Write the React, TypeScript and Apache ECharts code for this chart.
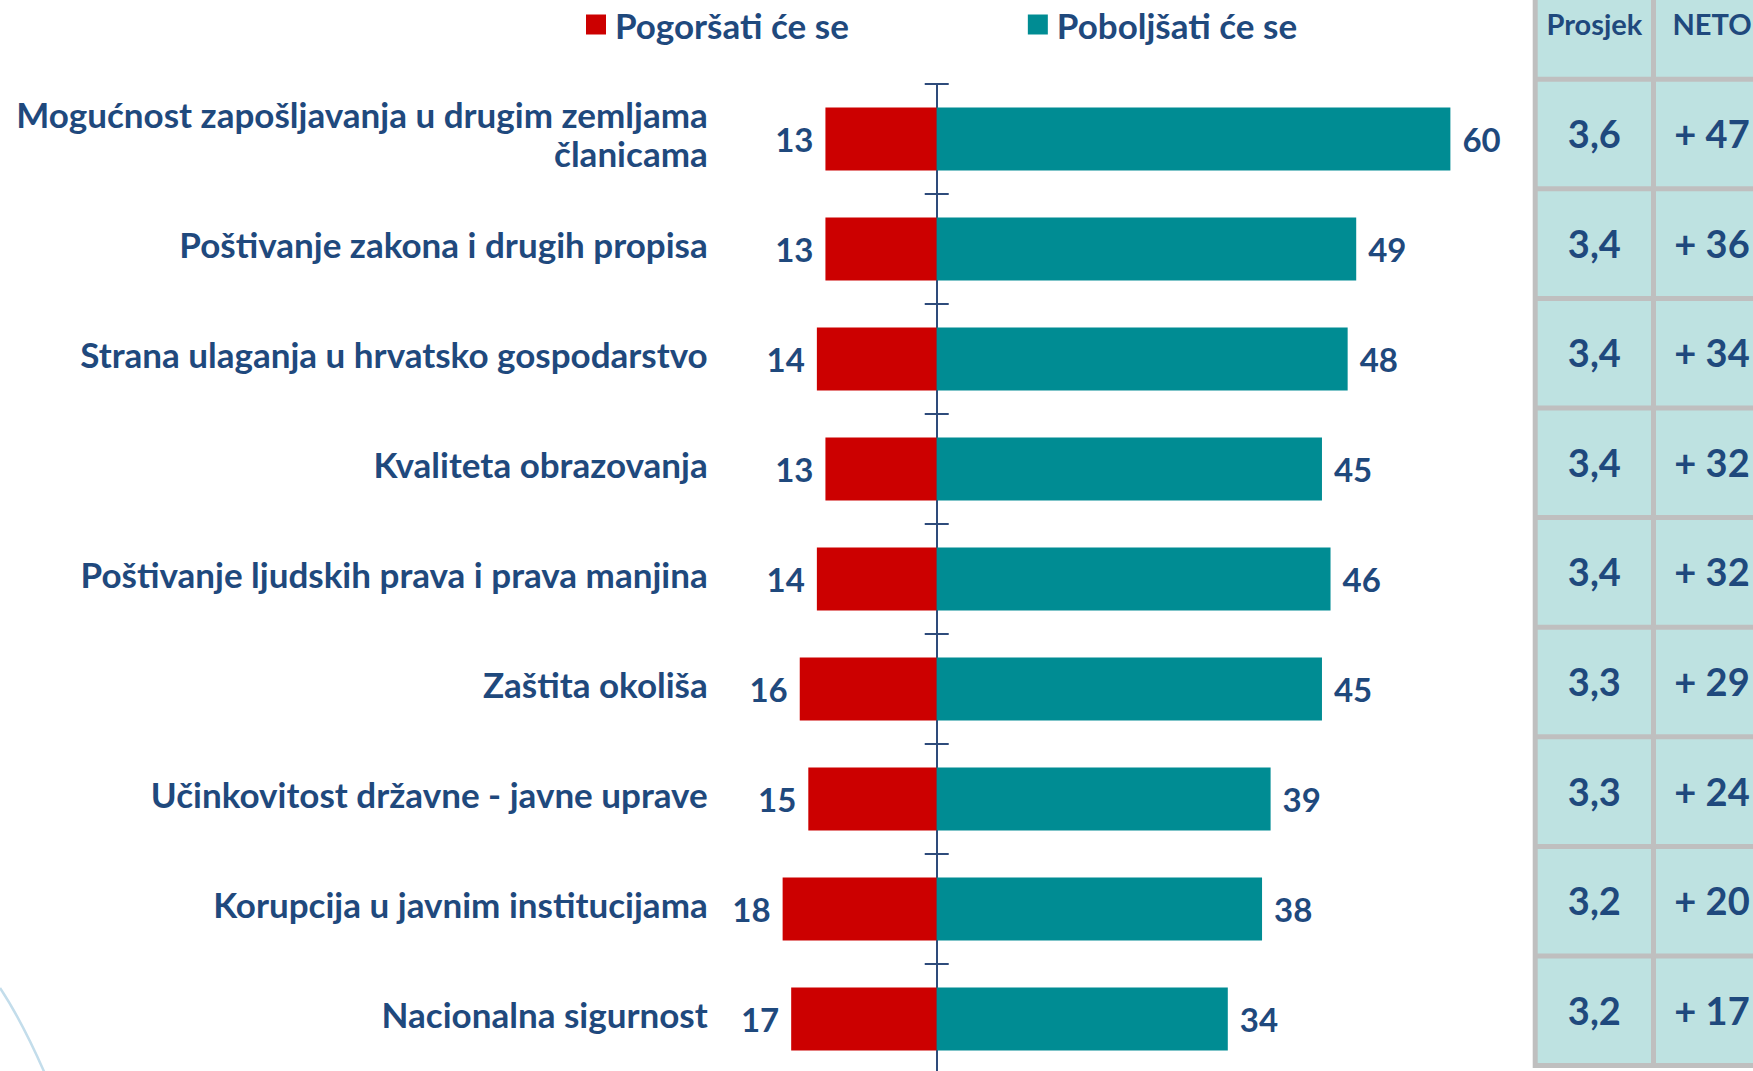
import React, { useEffect, useRef } from "react";
import * as echarts from "echarts";

const categories = [
  "Mogućnost zapošljavanja u drugim zemljama\nčlanicama",
  "Poštivanje zakona i drugih propisa",
  "Strana ulaganja u hrvatsko gospodarstvo",
  "Kvaliteta obrazovanja",
  "Poštivanje ljudskih prava i prava manjina",
  "Zaštita okoliša",
  "Učinkovitost državne - javne uprave",
  "Korupcija u javnim institucijama",
  "Nacionalna sigurnost",
];
const worse = [13, 13, 14, 13, 14, 16, 15, 18, 17];
const better = [60, 49, 48, 45, 46, 45, 39, 38, 34];
const averages = ["3,6", "3,4", "3,4", "3,4", "3,4", "3,3", "3,3", "3,2", "3,2"];
const netValues = [47, 36, 34, 32, 32, 29, 24, 20, 17];
const tableHeaders = ["Prosjek", "NETO"];
const seriesNames = ["Pogoršati će se", "Poboljšati će se"];

const FONT = "Lato, 'Open Sans', sans-serif";
const TEXT = "#1F497D";
const RED = "#CC0000";
const TEAL = "#008C93";
const AXIS = "#2E4B7B";

const X_MIN = -20;
const X_MAX = 70;
const GRID_LEFT = 765.5;
const GRID_RIGHT = 217;

export default function App() {
  const ref = useRef<HTMLDivElement>(null);
  useEffect(() => {
    if (!ref.current) return;
    const chart = echarts.init(ref.current, null, { renderer: "svg" });

    const plotW = 1753 - GRID_LEFT - GRID_RIGHT;
    const zeroOffset = -((0 - X_MIN) / (X_MAX - X_MIN)) * plotW;

    // table layout
    const tblX = 1532.7;
    const border = 5;
    const col1X = tblX + border;
    const col1W = 113.3;
    const col2X = col1X + col1W + border;
    const col2W = 200;
    const col2C = 1712;
    const firstLine = 79.2;
    const rowH = 109.6;
    const cellFill = "#BEE2E1";
    const graphics: any[] = [];
    const nRows = averages.length;
    const bottomLine = firstLine + nRows * rowH;
    graphics.push({
      type: "rect",
      shape: { x: tblX, y: -10, width: 400, height: bottomLine + border / 2 + 10 },
      style: { fill: "#BFBFBF" },
      silent: true,
    });
    graphics.push({
      type: "rect",
      shape: { x: col1X, y: -10, width: col1W, height: firstLine - border / 2 + 10 },
      style: { fill: cellFill },
    });
    graphics.push({
      type: "rect",
      shape: { x: col2X, y: -10, width: col2W, height: firstLine - border / 2 + 10 },
      style: { fill: cellFill },
    });
    graphics.push({
      type: "text",
      x: col1X + col1W / 2,
      y: 23,
      style: { text: tableHeaders[0], fill: TEXT, font: `bold 29px ${FONT}`, textAlign: "center", textVerticalAlign: "middle" },
    });
    graphics.push({
      type: "text",
      x: col2C,
      y: 23,
      style: { text: tableHeaders[1], fill: TEXT, font: `bold 29px ${FONT}`, textAlign: "center", textVerticalAlign: "middle" },
    });
    for (let i = 0; i < nRows; i++) {
      const top = firstLine + i * rowH + border / 2;
      const h = rowH - border;
      graphics.push({ type: "rect", shape: { x: col1X, y: top, width: col1W, height: h }, style: { fill: cellFill } });
      graphics.push({ type: "rect", shape: { x: col2X, y: top, width: col2W, height: h }, style: { fill: cellFill } });
      const cy = firstLine + (i + 0.5) * rowH - 1;
      graphics.push({
        type: "text",
        x: col1X + col1W / 2,
        y: cy,
        style: { text: averages[i], fill: TEXT, font: `bold 38px ${FONT}`, textAlign: "center", textVerticalAlign: "middle" },
      });
      graphics.push({
        type: "text",
        x: col2C,
        y: cy,
        style: { text: "+ " + netValues[i], fill: TEXT, font: `bold 38px ${FONT}`, textAlign: "center", textVerticalAlign: "middle" },
      });
    }
    // decorative arc bottom-left
    graphics.push({
      type: "bezierCurve",
      shape: { x1: 0, y1: 988, cpx1: 22, cpy1: 1021, x2: 46, y2: 1076 },
      style: { stroke: "#C3DDEB", lineWidth: 2.5, fill: "none" },
      silent: true,
    });

    const axisCommon = {
      type: "category",
      data: categories,
      inverse: true,
      position: "left",
      offset: zeroOffset,
      splitLine: { show: false },
    };

    chart.setOption({
      animation: false,
      backgroundColor: "#ffffff",
      legend: {
        data: seriesNames,
        left: 581,
        top: 2,
        icon: "rect",
        itemWidth: 20,
        itemHeight: 20,
        itemGap: 179,
        textStyle: {
          fontFamily: FONT,
          fontSize: 35,
          fontWeight: "bold",
          color: TEXT,
          padding: [0, 0, 0, 4],
        },
      },
      grid: { left: GRID_LEFT, right: GRID_RIGHT, top: 84, bottom: -3, containLabel: false, outerBoundsMode: "none" },
      xAxis: {
        type: "value",
        min: X_MIN,
        max: X_MAX,
        show: false,
      },
      yAxis: [
        {
          ...axisCommon,
          axisLine: { show: true, onZero: false, lineStyle: { color: AXIS, width: 2 } },
          axisTick: { show: true, length: 12, lineStyle: { color: AXIS, width: 2 } },
          axisLabel: {
            margin: 229,
            fontFamily: FONT,
            fontSize: 35,
            fontWeight: "bold",
            color: TEXT,
            lineHeight: 39,
            align: "right",
            formatter: (v: string) => v + "\n{s| }",
            rich: { s: { fontSize: 1, lineHeight: 11, height: 11 } },
          },
        },
        {
          ...axisCommon,
          axisLine: { show: true, onZero: false, lineStyle: { color: AXIS, width: 2 } },
          axisTick: { show: true, inside: true, length: 12, lineStyle: { color: AXIS, width: 2 } },
          axisLabel: { show: false },
        },
      ],
      series: [
        {
          name: seriesNames[0],
          type: "bar",
          stack: "total",
          data: worse.map((v) => -v),
          barWidth: 63,
          itemStyle: { color: RED },
          label: {
            show: true,
            position: "left",
            distance: 12,
            formatter: (p: any) => String(Math.abs(p.value)),
            fontFamily: FONT,
            fontSize: 33,
            fontWeight: "bold",
            color: TEXT,
          },
          z: 1,
        },
        {
          name: seriesNames[1],
          type: "bar",
          stack: "total",
          data: better,
          barWidth: 63,
          itemStyle: { color: TEAL },
          label: {
            show: true,
            position: "right",
            distance: 12,
            fontFamily: FONT,
            fontSize: 33,
            fontWeight: "bold",
            color: TEXT,
          },
          z: 1,
        },
      ],
      graphic: graphics,
    });
    return () => chart.dispose();
  }, []);
  return (
    <div
      ref={ref}
      style={{ position: "absolute", left: 0, top: 0, width: 1753, height: 1071 }}
    />
  );
}
